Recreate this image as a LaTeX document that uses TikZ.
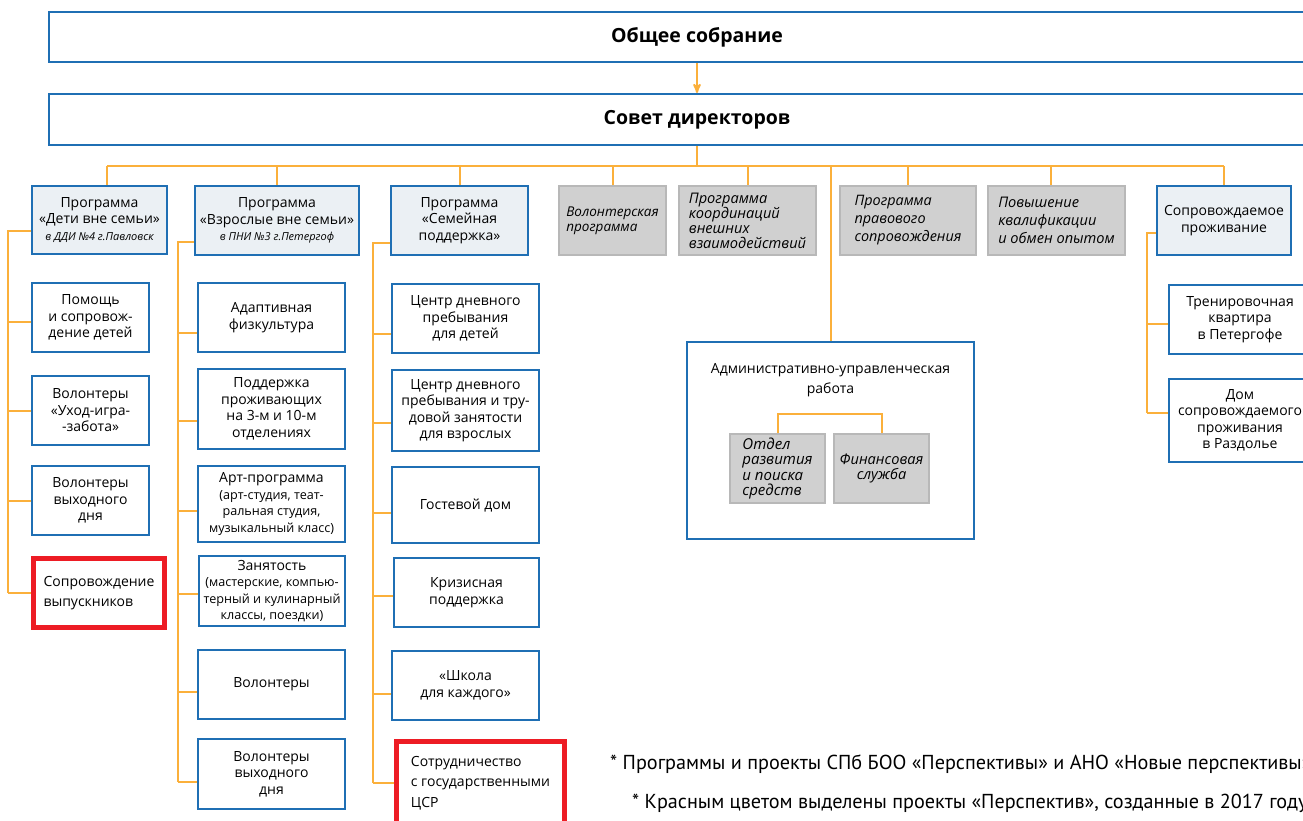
\documentclass[tikz,border=0pt]{standalone}
\usepackage{fontspec}
\setmainfont{Open Sans}
\newfontfamily\notefont{PT Sans}
\usetikzlibrary{positioning,arrows,calc}
\definecolor{blueline}{RGB}{31,111,180}
\definecolor{wireorange}{RGB}{251,176,59}
\definecolor{headfill}{RGB}{235,240,244}
\definecolor{greyfill}{RGB}{208,208,208}
\definecolor{greyline}{RGB}{184,184,184}
\definecolor{redline}{RGB}{237,28,36}
\newcommand{\sm}[1]{{\fontsize{12.6}{16}\selectfont #1}}
\newcommand{\sub}[1]{{\itshape\fontsize{11}{12}\selectfont #1}}

\begin{document}
\begin{tikzpicture}[x=1pt,y=-1pt,
    font=\fontsize{14}{16.5}\selectfont,
    wh/.style 2 args={minimum width=#1pt,minimum height=#2pt,inner sep=0pt},
    box/.style={draw=blueline,line width=2pt,fill=white,align=center},
    head/.style={box,fill=headfill},
    title/.style={box,font=\bfseries\fontsize{19.5}{21}\selectfont},
    greybox/.style={draw=greyline,line width=2pt,fill=greyfill,align=left,
      font=\itshape\fontsize{14.6}{15}\selectfont},
    redbox/.style={draw=redline,line width=5pt,fill=white,align=left,
      font=\fontsize{14}{20.5}\selectfont},
    wire/.style={draw=wireorange,line width=2pt}]
  \clip (0,0) rectangle (1303,821);
  \path[use as bounding box] (0,0) rectangle (1303,821);

  % top of the chart
  \node[title,wh={1296}{50}] (gm) at (697,37) {Общее собрание};
  \node[title,wh={1296}{51}] (bd) at (697,119.5) {Совет директоров};
  \draw[wire,-stealth'] (gm) -- (bd);

  \coordinate (busL) at (107,166);
  \coordinate (busR) at (1224,166);
  \draw[wire] (bd.south) -- (bd.south |- busL);
  \draw[wire] (busL) -- (busR);

  % programme heads
  \node[head,wh={135}{68}] (h1) at (99.5,220)
    {Программа\\«Дети вне семьи»\\\sub{в ДДИ №4 г.Павловск}};
  \node[head,wh={164}{69}] (h2) at (277,220.5)
    {Программа\\«Взрослые вне семьи»\\\sub{в ПНИ №3 г.Петергоф}};
  \node[head,wh={137}{69}] (h3) at (459.5,220.5)
    {Программа\\«Семейная\\поддержка»};
  \node[greybox,wh={107}{69}] (g1) at (612.5,220.5)
    {\fontsize{13.5}{14}\selectfont Волонтерская\\\fontsize{13.5}{14}\selectfont программа};
  \node[greybox,wh={137}{69}] (g2) at (747.5,220.5)
    {Программа\\координаций\\внешних\\взаимодействий};
  \node[greybox,wh={136}{69},font=\itshape\fontsize{14.4}{18}\selectfont] (g3) at (908,220.5)
    {Программа\\правового\\сопровождения};
  \node[greybox,wh={137}{69},font=\itshape\fontsize{14.6}{18}\selectfont] (g4) at (1056.5,220.5)
    {Повышение\\квалификации\\и обмен опытом};
  \node[head,wh={134}{69}] (h5) at (1224,220.5)
    {Сопровождаемое\\проживание};

  \draw[wire] (busL) -- (busL |- h1.north);
  \foreach \n in {h2,h3,g1,g2,g3,h5}
    \draw[wire] (\n.north) -- (\n.north |- busL);
  \draw[wire] ([xshift=-6pt]g4.north) -- ([xshift=-6pt]g4.north |- busL);

  % column 1
  \node[box,wh={117}{69}] (c11) at (90.5,317.5) {Помощь\\и сопровож-\\дение детей};
  \node[box,wh={117}{69}] (c12) at (90.5,410.5) {Волонтеры\\«Уход-игра-\\-забота»};
  \node[box,wh={117}{69}] (c13) at (90.5,500.5) {Волонтеры\\выходного\\дня};
  \node[redbox,wh={131}{69}] (c14) at (99,593) {Сопровождение\\выпускников};

  \coordinate (s1) at (8,231);
  \draw[wire] (h1.west |- s1) -- (s1) -- (s1 |- c14.west);
  \foreach \n/\dy in {c11/4.5,c12/0,c13/0,c14/0}
    \draw[wire] ($(\n.west)+(0,\dy)$) -- ($(\n.west -| s1)+(0,\dy)$);

  % column 2
  \node[box,wh={147}{69}] (c21) at (271.5,317.5) {Адаптивная\\физкультура};
  \node[box,wh={147}{80}] (c22) at (271.5,409) {Поддержка\\проживающих\\на 3-м и 10-м\\отделениях};
  \node[box,wh={147}{76}] (c23) at (271.5,504)
    {Арт-программа\\\sm{(арт-студия, теат-}\\\sm{ральная студия,}\\\sm{музыкальный класс)}};
  \node[box,wh={146}{70}] (c24) at (272,591)
    {Занятость\\\sm{(мастерские, компью-}\\\sm{терный и кулинарный}\\\sm{классы, поездки)}};
  \node[box,wh={147}{69}] (c25) at (271.5,684.5) {Волонтеры};
  \node[box,wh={147}{70}] (c26) at (271.5,774) {Волонтеры\\выходного\\дня};

  \coordinate (s2) at (178,242);
  \draw[wire] (h2.west |- s2) -- (s2) -- ($(s2 |- c26.west)+(0,8)$);
  \foreach \n/\dy in {c21/15.5,c22/12,c23/7,c24/3,c25/7.5,c26/8}
    \draw[wire] ($(\n.west)+(0,\dy)$) -- ($(\n.west -| s2)+(0,\dy)$);

  % column 3
  \node[box,wh={147}{69}] (c31) at (465.5,318.5) {Центр дневного\\пребывания\\для детей};
  \node[box,wh={147}{81}] (c32) at (465.5,410.5)
    {Центр дневного\\пребывания и тру-\\довой занятости\\для взрослых};
  \node[box,wh={147}{76}] (c33) at (465.5,505) {Гостевой дом};
  \node[box,wh={145}{69}] (c34) at (466.5,592.5) {Кризисная\\поддержка};
  \node[box,wh={147}{69}] (c35) at (465.5,685.5) {«Школа\\для каждого»};
  \node[redbox,wh={168}{84}] (c36) at (480.5,783)
    {Сотрудничество\\с государственными\\ЦСР};

  \coordinate (s3) at (373,243);
  \draw[wire] (h3.west |- s3) -- (s3) -- (s3 |- c36.west);
  \foreach \n/\dy in {c31/15.5,c32/12.5,c33/8,c34/3.5,c35/8.5,c36/0}
    \draw[wire] ($(\n.west)+(0,\dy)$) -- ($(\n.west -| s3)+(0,\dy)$);

  % administration
  \node[box,wh={287}{197}] (adm) at (830.5,440.5) {};
  \node[align=center,font=\fontsize{14}{19.5}\selectfont] (admtxt) at (830.5,380)
    {Административно-управленческая\\работа};
  \node[greybox,wh={95}{69},font=\itshape\fontsize{15}{15.5}\selectfont] (a1) at (777.5,468.5)
    {Отдел\\развития\\и поиска\\средств};
  \node[greybox,wh={95}{69},align=center] (a2) at (881.5,468.5) {Финансовая\\служба};
  \draw[wire] (adm.north) -- (adm.north |- busL);
  \draw[wire] (a1.north) -- ++(0,-19) -| (a2.north);

  % supported living
  \node[box,wh={142}{69}] (c51) at (1240,319.5) {Тренировочная\\квартира\\в Петергофе};
  \node[box,wh={142}{83}] (c52) at (1240,420.5) {Дом\\сопровождаемого\\проживания\\в Раздолье};

  \coordinate (s5) at (1147,233);
  \draw[wire] (h5.west |- s5) -- (s5) -- ($(s5 |- c52.west)+(0,-7.5)$);
  \foreach \n/\dy in {c51/4.5,c52/-7.5}
    \draw[wire] ($(\n.west)+(0,\dy)$) -- ($(\n.west -| s5)+(0,\dy)$);

  % notes
  \node[anchor=base west,inner sep=0pt,font=\notefont\fontsize{20.2}{22}\selectfont] (note1) at (610,769)
    {* Программы и проекты СПб БОО «Перспективы» и АНО «Новые перспективы»};
  \node[anchor=base west,inner sep=0pt,font=\notefont\fontsize{20.2}{22}\selectfont] (note2) at (632,808)
    {* Красным цветом выделены проекты «Перспектив», созданные в 2017 году};
\end{tikzpicture}
\end{document}
